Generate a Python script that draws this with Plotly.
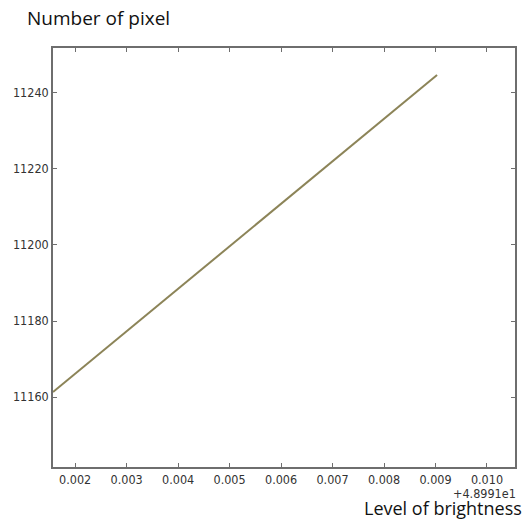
import plotly.graph_objects as go

# Data (x shown as offset from 48.991, as in the reference)
x_offset_value = 48.991
x_offsets = [0.00157, 0.00903]
pixels = [11161.3, 11244.7]

x_tick_vals = [0.002, 0.003, 0.004, 0.005, 0.006, 0.007, 0.008, 0.009, 0.010]
x_tick_text = ["0.002", "0.003", "0.004", "0.005", "0.006", "0.007", "0.008", "0.009", "0.010"]
y_tick_vals = [11160, 11180, 11200, 11220, 11240]
y_tick_text = ["11160", "11180", "11200", "11220", "11240"]

fig = go.Figure()
fig.add_trace(go.Scatter(
    x=x_offsets, y=pixels, mode="lines",
    line=dict(color="#8c8458", width=2),
    showlegend=False, hoverinfo="skip",
))

axis_common = dict(
    showgrid=False, zeroline=False, showline=True, linecolor="#6e6e6e", linewidth=1.5,
    mirror="allticks", ticks="inside", ticklen=4, tickcolor="#6e6e6e", tickwidth=1,
    automargin=False,
    tickfont=dict(family="DejaVu Sans Condensed, DejaVu Sans", size=12.5, color="#333333"),
)

fig.update_layout(
    width=526, height=520,
    margin=dict(l=53, r=11, t=48, b=53),
    paper_bgcolor="white", plot_bgcolor="white",
    xaxis=dict(range=[0.00157, 0.010544], tickvals=x_tick_vals, ticktext=x_tick_text, **axis_common),
    yaxis=dict(range=[11141.6, 11251.8], tickvals=y_tick_vals, ticktext=y_tick_text, **axis_common),
    annotations=[
        dict(text="Number of pixel", xref="paper", yref="paper", x=-25/462, y=1,
             xanchor="left", yanchor="middle", yshift=30, xshift=-2, showarrow=False,
             borderpad=0, font=dict(family="Open Sans", size=19, color="#111111")),
        dict(text="+%.4fe1" % (x_offset_value / 10), xref="paper", yref="paper", x=1, y=0,
             xanchor="right", yanchor="middle", yshift=-26, xshift=2, showarrow=False,
             borderpad=0, font=dict(family="DejaVu Sans Condensed, DejaVu Sans", size=12.5, color="#333333")),
        dict(text="Level of brightness", xref="paper", yref="paper", x=1, y=0,
             xanchor="right", yanchor="middle", yshift=-41, xshift=8, showarrow=False,
             borderpad=0, font=dict(family="Open Sans", size=18, color="#111111")),
    ],
)

fig.write_html("out.html", config={"displayModeBar": False},
               post_script="document.body.style.margin='0';document.body.style.padding='0';")
